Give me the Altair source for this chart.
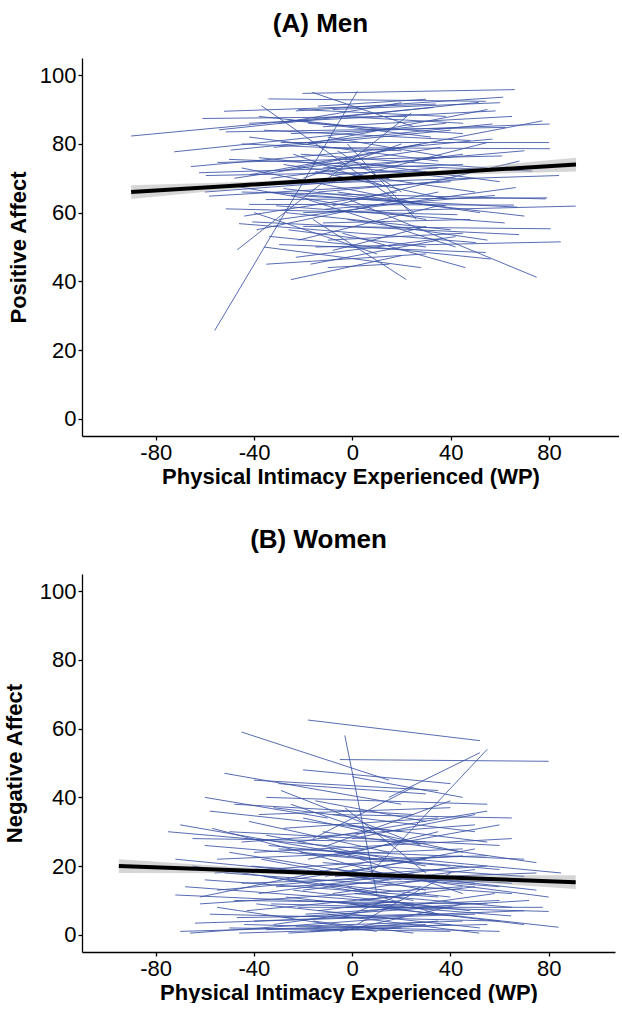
import altair as alt
import pandas as pd

FONT = "Liberation Sans"
BLUE = "#3A52A6"

# ---------------- Panel A: Men (Positive Affect) ----------------
men_x_start = [-90, -72.5, -65.7, -62.4, -61, -59.6, -58.3, -56, -54.9, -54.2,
               -52.2, -51.5, -51.5, -50.2, -49.5, -46.8, -46.1, -42, -42, -40.7,
               -37, -35.2, -34.2, -33.9, -29.8, -29.1, -23, -20.3, -16.3, -13.5,
               -9.5, -1, -40, -30, -25, -20, -30, -25, -20, -15,
               -45, -25, -10, -35, -38, -33, -28, -27, -22, -18,
               -15, -12, -10, -8, -6, -5, -3, -45, -42, -39,
               -36, -31, -26, -24, -21, -19, -17, -14, -11, -7,
               -4, -2, -48, -44, -38, -32, -28, -23, -16, -12,
               -45, -36, -22, -8, -60, -20, -30, -50, -10, -2,
               -42, -26, -18, -14, -6, -34, -40, -24, -12, -8]
men_y_start = [82.3, 77.7, 73.4, 71.6, 87.4, 70.8, 64.8, 25.7, 74.6, 84.1,
               89.5, 83.5, 61.1, 75.5, 78.2, 49.2, 56.8, 86, 62.4, 57.3,
               91.1, 63.8, 93.1, 53.1, 50.7, 80.4, 89.6, 94.7, 95, 78.9,
               68.7, 63.7, 68, 72, 83, 60, 58, 65, 56, 50,
               66, 40.5, 44, 45, 76, 70, 74, 60, 52, 86,
               72, 57, 82, 49, 66, 88, 75, 80, 71, 55,
               84, 62, 87, 69, 77, 64, 45, 91, 61, 71,
               54, 80, 70, 59, 88, 79, 67, 47, 58, 85,
               73, 50, 90, 62, 66, 70, 86, 68, 52, 58,
               82, 55, 80, 66, 78, 66, 60, 77, 73, 90]
men_x_end = [33, 38, 57, 45, 22, 30, 40, 2, 61, 51.5,
             34, 62.4, 42.7, 73.2, 57, 24, 50.2, 58.3, 65.8, 67.8,
             25, 79.3, 54.3, 56.3, 54.3, 80, 61.4, 66.1, 25, 80.4,
             54.9, 75, 84.1, 77.3, 80.3, 90.9, 66.5, 67.1, 80.7, 84.8,
             78.7, 20, 15, 30, 42, 45, 50, 40, 35, 45,
             38, 48, 40, 30, 52, 45, 60, 20, 28, 35,
             48, 62, 32, 44, 55, 42, 35, 30, 58, 35,
             46, 26, 36, 18, 15, 40, 70, 42, 22, 65,
             25, 28, 38, 68, 15, 20, 20, 30, 45, 55,
             35, 30, 55, 50, 20, 38, 10, 12, 70, 60]
men_y_end = [90.6, 86, 81.4, 74, 88, 72, 69, 95.3, 76.5, 92.1,
             91.6, 84.8, 59.4, 72.1, 85.8, 89, 51.3, 89.6, 62.2, 53.6,
             60, 64.3, 92.4, 46.5, 48.4, 80.4, 93.6, 95.8, 85, 78.6,
             80.4, 41.2, 70.8, 86.7, 85.8, 61.9, 67.3, 61.6, 55.3, 51.5,
             64, 47.5, 45, 48, 70, 77, 66, 55, 62, 83,
             64, 58, 76, 56, 60, 86, 69, 78, 80, 66,
             81, 57, 82, 72, 73, 50, 52, 93, 65, 73,
             44, 58, 79, 66, 84, 84, 59, 53, 40.5, 88,
             63, 44, 88, 75, 70, 80, 92, 58, 54, 52,
             75, 50, 90, 70, 66, 62, 48, 68, 78, 92]

men_fit_x = [-90, -45, 0, 45, 91]
men_fit_y = [66.0, 68.0, 70.0, 72.0, 74.0]
men_fit_lo = [64.0, 67.1, 69.4, 71.1, 72.0]
men_fit_hi = [68.0, 68.9, 70.6, 72.9, 76.0]

# ---------------- Panel B: Women (Negative Affect) ----------------
women_x_start = [-18, -45, -5, -3, 5, 15, -52, -40, -30, -20,
                 0, -35, -70, -65, -60, -58, -55, -50, -48, -45,
                 -42, -40, -38, -35, -32, -30, -28, -25, -22, -20,
                 -18, -15, -12, -10, -8, -5, -2, 0, -60, -72,
                 -70, -66, -64, -62, -60, -58, -55, -52, -50, -48,
                 -46, -45, -43, -41, -40, -38, -36, -35, -33, -31,
                 -30, -28, -27, -25, -23, -22, -20, -18, -16, -15,
                 -13, -12, -10, -8, -7, -5, -3, -2, 0, 2,
                 3, -65, -55, -50, -44, -37, -26, -21, -14, -9,
                 -6, -4, 1, 4, -68, -56, -47, -39, -32, -24,
                 -17, -11, -1, -34, -57, -29, -16, -3, -62, -19,
                 -75, -72]
women_y_start = [62.5, 59, 51, 58, 16, 40, 47, 45, 44, 48,
                 46, 40, 32, 28, 26, 36, 22, 30, 38, 27,
                 33, 24, 35, 29, 37, 25, 31, 38, 27, 34,
                 22, 39, 30, 26, 35, 23, 32, 28, 40, 11.6,
                 1, 0.5, 3.4, 9, 16, 6, 13, 18, 2, 10,
                 0.5, 15, 7, 20, 4, 12, 17, 1.5, 9, 14,
                 19, 5, 11, 16, 2.5, 8, 13, 18, 4, 10,
                 15, 21, 6, 12, 17, 1, 8, 14, 19, 3,
                 10, 20, 8, 24, 3, 22, 0.5, 24, 7, 25,
                 19, 5, 12, 22, 14, 18, 5, 9, 3, 13,
                 1, 17, 9, 26, 31, 42, 28, 37, 11, 6,
                 30, 22]
women_x_end = [52, 15, 80, 10, 55, 52, 20, 35, 30, 40,
               45, 55, 10, 30, 40, 20, 45, 60, 25, 50,
               15, 65, 40, 30, 50, 70, 35, 20, 55, 45,
               60, 30, 75, 40, 65, 35, 55, 50, -10, 40,
               30, 20, 50, 45, 35, 60, 25, 65, 40, 55,
               20, 75, 30, 50, 70, 45, 25, 55, 80, 40,
               60, 35, 84, 30, 45, 77.6, 50, 65, 25, 64.7,
               40, 70, 51.7, 30, 55, 45, 60, 35, 75, 40,
               50, 15, 10, 20, 60, 30, 40, 60, 20, 45,
               80, 28, 65, 55, 25, 45, 35, 52, 58, 48,
               35, 50, 70, 85, 12, 28, 25, 30, 5, 72,
               5, 15]
women_y_end = [56.5, 45, 50.5, 12, 54, 53, 38, 42, 41, 44,
               40, 38, 22, 27, 20, 30, 25, 26, 35, 32,
               24, 28, 37, 20, 30, 22, 34, 27, 36, 24,
               32, 33, 21, 39, 34, 30, 27, 35, 34, 8,
               3, 5, 6, 14, 11, 4, 18, 12, 1, 9,
               2, 18, 12, 15, 7, 20, 10, 3, 6.8, 16,
               14, 8, 2.2, 22, 4, 8, 19, 15, 0.5, 5.5,
               11, 17, 0.5, 16, 20, 9, 10, 6, 13, 18,
               14, 12, 1, 16, 1, 13, 3, 19, 10, 12,
               11, 14, 8, 23, 9, 23, 6, 2, 12, 7,
               4, 25, 3, 18, 18, 26, 43, 18, 21, 10,
               25, 16]

women_fit_x = [-95, -47, 0, 45, 91]
women_fit_y = [20.0, 18.8, 17.6, 16.5, 15.3]
women_fit_lo = [18.0, 17.9, 17.0, 15.6, 13.3]
women_fit_hi = [22.0, 19.7, 18.2, 17.4, 17.3]

x_ticks = [-80, -40, 0, 40, 80]
y_ticks = [0, 20, 40, 60, 80, 100]
x_title = "Physical Intimacy Experienced (WP)"


def panel(xs, ys, xe, ye, fx, fy, flo, fhi, title, ytitle, width, xmax, tpad):
    seg = pd.DataFrame({"x1": xs, "y1": ys, "x2": xe, "y2": ye})
    fit = pd.DataFrame({"x": fx, "fit": fy, "lo": flo, "hi": fhi})
    xsc = alt.Scale(domain=[-110, xmax], nice=False, zero=False)
    ysc = alt.Scale(domain=[-5, 105], nice=False, zero=False)
    xax = alt.Axis(values=x_ticks, title=x_title, labelExpr="datum.value + ''")
    yax = alt.Axis(values=y_ticks, title=ytitle, titlePadding=tpad,
                   labelExpr="datum.value + ''")
    lines = alt.Chart(seg).mark_rule(color=BLUE, strokeWidth=0.9, opacity=0.95).encode(
        x=alt.X("x1:Q", scale=xsc, axis=xax), x2="x2:Q",
        y=alt.Y("y1:Q", scale=ysc, axis=yax), y2="y2:Q")
    band = alt.Chart(fit).mark_area(color="#999999", opacity=0.4).encode(
        x=alt.X("x:Q", scale=xsc, axis=xax),
        y=alt.Y("lo:Q", scale=ysc, axis=yax), y2="hi:Q")
    line = alt.Chart(fit).mark_line(color="black", strokeWidth=4).encode(
        x=alt.X("x:Q", scale=xsc, axis=xax),
        y=alt.Y("fit:Q", scale=ysc, axis=yax))
    return alt.layer(lines, band, line).properties(
        width=width, height=378,
        title=alt.TitleParams(title, frame="group", dx=-30))


pA = panel(men_x_start, men_y_start, men_x_end, men_y_end,
           men_fit_x, men_fit_y, men_fit_lo, men_fit_hi,
           "(A) Men", "Positive Affect", 537, 108.5, 9)
pB = panel(women_x_start, women_y_start, women_x_end, women_y_end,
           women_fit_x, women_fit_y, women_fit_lo, women_fit_hi,
           "(B) Women", "Negative Affect", 533, 107.0, 13)

chart = alt.vconcat(pA, pB, spacing=40).properties(
    padding={"left": 3, "top": 11, "right": 0, "bottom": 0}
).configure_axis(
    domainColor="black", domainWidth=1.3, tickColor="black", tickWidth=1.3,
    tickSize=4, labelColor="black", labelFontSize=22, labelFont=FONT,
    labelPadding=2, titleFont=FONT, titleFontSize=22, titleFontWeight="bold",
    titleColor="black", grid=False
).configure_axisX(titlePadding=3).configure_view(stroke=None).configure_title(
    font=FONT, fontSize=26, fontWeight="bold", color="black", anchor="middle", offset=21
)

chart.save("out.html", embed_options={"renderer": "svg", "actions": False})
